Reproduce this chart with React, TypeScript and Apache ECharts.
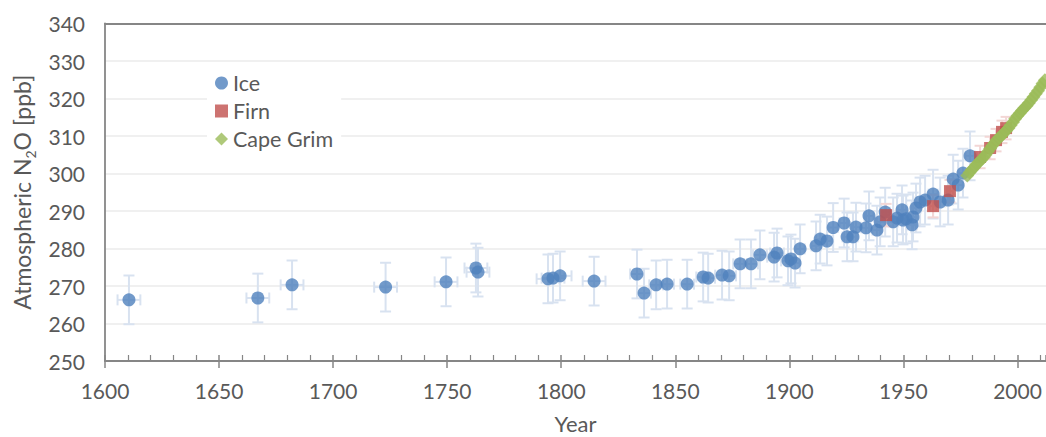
import React, { useEffect, useRef } from "react";
import * as echarts from "echarts";

// Ice core data: [year, N2O ppb]
const iceYears = [1610.5, 1667, 1682, 1723, 1749.5, 1762.6, 1763.5, 1794.2, 1796.4, 1799.5, 1814.4, 1833.2, 1836.3, 1841.6, 1846.4, 1855.2, 1862.2, 1864.4, 1870.5, 1873.6, 1878.4, 1883.2, 1887.1, 1893.3, 1894.6, 1899.4, 1900.7, 1902.5, 1904.7, 1911.7, 1913.5, 1916.5, 1919.2, 1924, 1925.3, 1927.9, 1929.2, 1933.6, 1934.9, 1938.4, 1939.8, 1942, 1945.5, 1947.2, 1949.4, 1949.8, 1951.2, 1953.8, 1954.2, 1955.5, 1957.3, 1959.5, 1963, 1966.1, 1969.6, 1971.8, 1974, 1976.1, 1979.2];
const iceValues = [266.3, 266.8, 270.3, 269.7, 271.1, 274.8, 273.7, 271.9, 272.1, 272.7, 271.3, 273.2, 268.1, 270.3, 270.5, 270.5, 272.4, 272.1, 272.9, 272.7, 275.9, 275.9, 278.3, 277.7, 278.8, 276.7, 277.2, 276.1, 279.9, 280.7, 282.5, 282.0, 285.6, 286.8, 283.1, 283.1, 285.7, 285.5, 288.7, 284.9, 287.1, 289.7, 287.1, 288.1, 290.3, 287.6, 287.9, 286.3, 288.4, 290.8, 292.4, 292.9, 294.5, 292.4, 292.9, 298.5, 296.9, 300.1, 304.7];
const iceYErr = [6.5, 6.5, 6.5, 6.5, 6.5, 6.5, 6.5, 6.5, 6.5, 6.5, 6.5, 6.5, 6.5, 6.5, 6.5, 6.5, 6.5, 6.5, 6.5, 6.5, 6.5, 6.5, 6.5, 6.5, 6.5, 6.5, 6.5, 6.5, 6.5, 6.5, 6.5, 6.5, 6.5, 6.5, 6.5, 6.5, 6.5, 6.5, 6.5, 6.5, 6.5, 6.5, 6.5, 6.5, 6.5, 6.5, 6.5, 6.5, 6.5, 6.5, 6.5, 6.5, 6.5, 6.5, 6.5, 6.5, 6.5, 6.5, 6.5];
const iceXErr = [5, 5, 5, 5, 5, 5, 5, 5, 5, 5, 5, 3, 3, 3, 3, 3, 3, 3, 3, 3, 3, 3, 3, 3, 3, 3, 2, 2, 2, 2, 2, 2, 2, 2, 2, 2, 2, 2, 2, 2, 2, 2, 2, 2, 2, 2, 2, 2, 2, 2, 2, 2, 2, 2, 2, 2, 2, 2, 2];

// Firn air data
const firnYears = [1942.4, 1963, 1970.4, 1983.6, 1988, 1990.6, 1993.2, 1995];
const firnValues = [288.9, 291.3, 295.3, 304.4, 306.8, 308.9, 311.1, 312.1];
const firnYErr = [3, 3, 3, 3, 3, 3, 3, 3];
const firnXErr = [1.5, 1.5, 1.5, 1.5, 1.5, 1.5, 1.5, 1.5];

// Cape Grim atmospheric record
const capeYears = [1978, 1979, 1980, 1981, 1982, 1983, 1984, 1985, 1986, 1987, 1988, 1989, 1990, 1991, 1992, 1993, 1994, 1995, 1996, 1997, 1998, 1999, 2000, 2001, 2002, 2003, 2004, 2005, 2006, 2007, 2008, 2009, 2010, 2011, 2012, 2013];
const capeValues = [299.5, 300.3, 301.0, 301.6, 302.4, 303.0, 303.6, 304.2, 305.0, 305.8, 306.7, 307.5, 308.2, 309.0, 309.6, 310.1, 310.8, 311.4, 312.1, 312.9, 313.7, 314.6, 315.4, 316.1, 316.8, 317.5, 318.1, 318.8, 319.6, 320.4, 321.3, 322.1, 323.0, 324.0, 324.9, 325.7];

const xTicks = [1600, 1650, 1700, 1750, 1800, 1850, 1900, 1950, 2000];
const yTicks = [250, 260, 270, 280, 290, 300, 310, 320, 330, 340];

const FONT = "Lato, 'Open Sans', sans-serif";
const TXT = "#595959";

function errSeries(data: number[][], color: string) {
  return {
    type: "custom",
    xAxisIndex: 0,
    yAxisIndex: 0,
    silent: true,
    z: 1,
    encode: { x: 0, y: 1 },
    data,
    renderItem: (params: any, api: any) => {
      const x = api.value(0);
      const y = api.value(1);
      const ey = api.value(2);
      const ex = api.value(3);
      const top = api.coord([x, y + ey]);
      const bot = api.coord([x, y - ey]);
      const left = api.coord([x - ex, y]);
      const right = api.coord([x + ex, y]);
      const c = 5.5;
      const st = { stroke: color, lineWidth: 2 };
      return {
        type: "group",
        children: [
          { type: "line", shape: { x1: top[0], y1: top[1], x2: bot[0], y2: bot[1] }, style: st },
          { type: "line", shape: { x1: top[0] - c, y1: top[1], x2: top[0] + c, y2: top[1] }, style: st },
          { type: "line", shape: { x1: bot[0] - c, y1: bot[1], x2: bot[0] + c, y2: bot[1] }, style: st },
          { type: "line", shape: { x1: left[0], y1: left[1], x2: right[0], y2: right[1] }, style: st },
          { type: "line", shape: { x1: left[0], y1: left[1] - c, x2: left[0], y2: left[1] + c }, style: st },
          { type: "line", shape: { x1: right[0], y1: right[1] - c, x2: right[0], y2: right[1] + c }, style: st },
        ],
      };
    },
  };
}

export default function App() {
  const ref = useRef<HTMLDivElement>(null);
  useEffect(() => {
    if (!ref.current) return;
    const chart = echarts.init(ref.current, undefined, { renderer: "svg" });
    const xMin = xTicks[0];
    const xMax = 2012.5;
    const iceErr = iceYears.map((yr, i) => [yr, iceValues[i], iceYErr[i], iceXErr[i]]);
    const firnErr = firnYears.map((yr, i) => [yr, firnValues[i], firnYErr[i], firnXErr[i]]);
    const option: any = {
      animation: false,
      backgroundColor: "#ffffff",
      grid: { left: 105, right: 0, top: 23.5, bottom: 76, containLabel: false, outerBoundsMode: "none" },
      legend: {
        orient: "vertical",
        left: 207,
        top: 68,
        padding: [3, 8, 3, 8],
        backgroundColor: "#ffffff",
        itemWidth: 13,
        itemHeight: 13,
        itemGap: 4,
        data: [
          { name: "Ice", icon: "circle" },
          { name: "Firn", icon: "rect" },
          { name: "Cape Grim", icon: "diamond" },
        ],
        textStyle: { fontFamily: FONT, fontSize: 21.5, color: TXT, lineHeight: 24 },
      },
      xAxis: [
        {
          type: "value",
          position: "bottom",
          min: xMin,
          max: xMax,
          interval: 50,
          name: "Year",
          nameLocation: "middle",
          nameGap: 51,
          nameTextStyle: { fontFamily: FONT, fontSize: 22, color: TXT },
          axisLine: { show: true, onZero: false, lineStyle: { color: "#868686", width: 1.8 } },
          axisTick: { show: true, inside: false, length: 7, lineStyle: { color: "#868686", width: 1.5 } },
          axisLabel: {
            fontFamily: FONT,
            fontSize: 21,
            color: TXT,
            margin: 19,
            showMaxLabel: false,
            formatter: (v: number) => (xTicks.indexOf(Math.round(v)) >= 0 && Math.abs(v - Math.round(v)) < 1e-6 ? String(Math.round(v)) : ""),
          },
          splitLine: { show: false },
        },
        {
          type: "value",
          position: "bottom",
          min: xMin,
          max: xMax,
          interval: 50,
          axisLine: { show: false, onZero: false },
          axisTick: { show: true, inside: true, length: 6, lineStyle: { color: "#868686", width: 1.5 } },
          minorTick: { show: true, splitNumber: 5, length: 6, lineStyle: { color: "#868686", width: 1.2 } },
          axisLabel: { show: false },
          splitLine: { show: false },
        },
        {
          type: "value",
          position: "top",
          min: xMin,
          max: xMax,
          interval: 50,
          axisLine: { show: true, onZero: false, lineStyle: { color: "#868686", width: 1.8 } },
          axisTick: { show: false },
          axisLabel: { show: false },
          splitLine: { show: false },
        },
      ],
      yAxis: {
        type: "value",
        min: yTicks[0],
        max: yTicks[yTicks.length - 1],
        interval: 10,
        name: "{a|Atmospheric N}{s|2}{a|O [ppb]}",
        nameLocation: "middle",
        nameGap: 54,
        nameTextStyle: {
          fontFamily: FONT,
          color: TXT,
          rich: {
            a: { fontFamily: FONT, fontSize: 23, color: TXT, lineHeight: 28, verticalAlign: "bottom" },
            s: { fontFamily: FONT, fontSize: 14, color: TXT, lineHeight: 28, verticalAlign: "bottom", padding: [0, 0, -4, 0] },
          },
        },
        axisLine: { show: true, onZero: false, lineStyle: { color: "#868686", width: 1.8 } },
        axisTick: { show: false },
        axisLabel: { fontFamily: FONT, fontSize: 21, color: TXT, margin: 20 },
        splitLine: { show: true, lineStyle: { color: "#ebebeb", width: 1.5 } },
      },
      series: [
        errSeries(iceErr, "#d8e2f0"),
        errSeries(firnErr, "#f3d6d5"),
        {
          name: "Ice",
          type: "scatter",
          xAxisIndex: 0,
          symbol: "circle",
          symbolSize: 13,
          z: 3,
          itemStyle: { color: "#4f81bd" },
          data: iceYears.map((yr, i) => [yr, iceValues[i]]),
        },
        {
          name: "Firn",
          type: "scatter",
          xAxisIndex: 0,
          symbol: "rect",
          symbolSize: 12,
          z: 4,
          itemStyle: { color: "#c0504d" },
          data: firnYears.map((yr, i) => [yr, firnValues[i]]),
        },
        {
          name: "Cape Grim",
          type: "scatter",
          xAxisIndex: 0,
          symbol: "diamond",
          symbolSize: 14,
          z: 5,
          itemStyle: { color: "#9bbb59" },
          data: capeYears.map((yr, i) => [yr, capeValues[i]]),
        },
      ],
    };
    chart.setOption(option);
    return () => chart.dispose();
  }, []);
  return <div ref={ref} style={{ position: "absolute", left: 0, top: 0, width: 1046, height: 437 }} />;
}
